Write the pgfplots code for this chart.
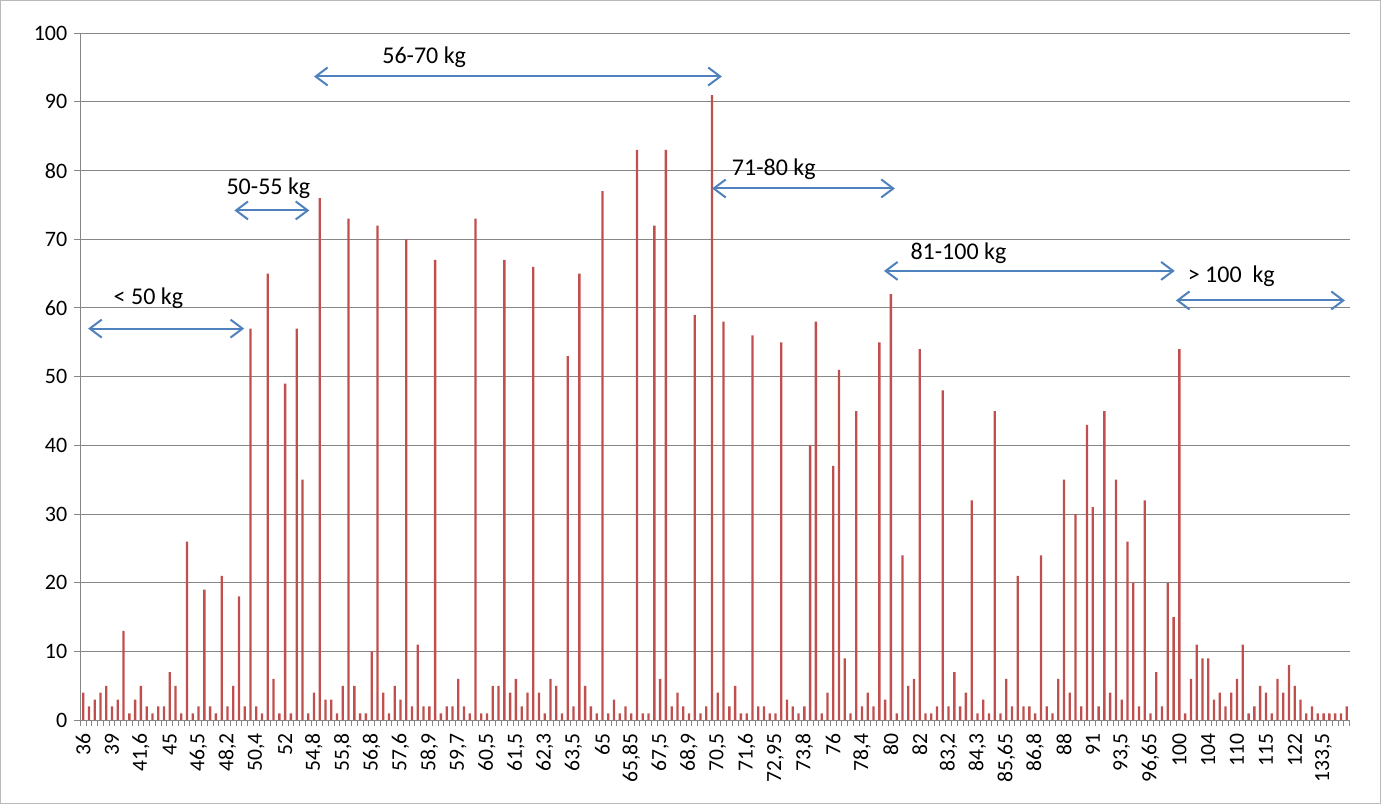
\documentclass[border=0pt]{standalone}
\usepackage{fontspec}
\setmainfont{Carlito}
\usepackage{pgfplots}
\usepackage{pgfplotstable}
\pgfplotsset{compat=1.18}
\usetikzlibrary{arrows.meta}

\definecolor{barred}{RGB}{192,80,77}
\definecolor{arrowblue}{RGB}{79,129,189}
\definecolor{gridgray}{RGB}{134,134,134}

% category index, count (one row per weight value)
\pgfplotstableread{
cat val
1 4
2 2
3 3
4 4
5 5
6 2
7 3
8 13
9 1
10 3
11 5
12 2
13 1
14 2
15 2
16 7
17 5
18 1
19 26
20 1
21 2
22 19
23 2
24 1
25 21
26 2
27 5
28 18
29 2
30 57
31 2
32 1
33 65
34 6
35 1
36 49
37 1
38 57
39 35
40 1
41 4
42 76
43 3
44 3
45 1
46 5
47 73
48 5
49 1
50 1
51 10
52 72
53 4
54 1
55 5
56 3
57 70
58 2
59 11
60 2
61 2
62 67
63 1
64 2
65 2
66 6
67 2
68 1
69 73
70 1
71 1
72 5
73 5
74 67
75 4
76 6
77 2
78 4
79 66
80 4
81 1
82 6
83 5
84 1
85 53
86 2
87 65
88 5
89 2
90 1
91 77
92 1
93 3
94 1
95 2
96 1
97 83
98 1
99 1
100 72
101 6
102 83
103 2
104 4
105 2
106 1
107 59
108 1
109 2
110 91
111 4
112 58
113 2
114 5
115 1
116 1
117 56
118 2
119 2
120 1
121 1
122 55
123 3
124 2
125 1
126 2
127 40
128 58
129 1
130 4
131 37
132 51
133 9
134 1
135 45
136 2
137 4
138 2
139 55
140 3
141 62
142 1
143 24
144 5
145 6
146 54
147 1
148 1
149 2
150 48
151 2
152 7
153 2
154 4
155 32
156 1
157 3
158 1
159 45
160 1
161 6
162 2
163 21
164 2
165 2
166 1
167 24
168 2
169 1
170 6
171 35
172 4
173 30
174 2
175 43
176 31
177 2
178 45
179 4
180 35
181 3
182 26
183 20
184 2
185 32
186 1
187 7
188 2
189 20
190 15
191 54
192 1
193 6
194 11
195 9
196 9
197 3
198 4
199 2
200 4
201 6
202 11
203 1
204 2
205 5
206 4
207 1
208 6
209 4
210 8
211 5
212 3
213 1
214 2
215 1
216 1
217 1
218 1
219 1
220 2
}\weights

\begin{document}
\begin{tikzpicture}
\begin{axis}[
  scale only axis,
  width=634.7pt, height=343.5pt,
  xmin=0.5, xmax=220.5,
  ymin=0, ymax=100,
  ybar, bar width=0.4,
  axis x line*=bottom, axis y line*=left,
  axis line style={gridgray},
  ytick={0,10,...,100},
  ymajorgrids,
  grid style={gridgray, line width=0.5pt},
  xtick={1,6,...,216},
  xticklabels={36,39,{41,6},45,{46,5},{48,2},{50,4},52,{54,8},{55,8},{56,8},{57,6},{58,9},{59,7},{60,5},{61,5},{62,3},{63,5},65,{65,85},{67,5},{68,9},{70,5},{71,6},{72,95},{73,8},76,{78,4},80,82,{83,2},{84,3},{85,65},{86,8},88,91,{93,5},{96,65},100,104,110,115,122,{133,5}},
  minor xtick={0.5,1.5,...,220.5},
  tick align=outside,
  major tick length=3pt, minor tick length=3pt,
  tick style={gridgray, line width=0.5pt},
  major x tick style={draw=none},
  x tick label style={rotate=90, anchor=east, font=\fontsize{10.8}{11}\selectfont},
  y tick label style={font=\fontsize{11}{12}\selectfont},
  /pgf/number format/assume math mode=true,
  clip=false,
]
\addplot[fill=barred, draw=none] table[x=cat, y=val] {\weights};

\draw[gray!55, line width=0.6pt] (rel axis cs:-0.0628,-0.1215) rectangle (rel axis cs:1.0243,1.0475);

\tikzset{rng/.style={arrowblue, line width=1pt,
  {Straight Barb[length=6pt,width=9pt]}-{Straight Barb[length=6pt,width=9pt]}}}
\draw[rng] (axis cs:1.85,57) -- (axis cs:28.9,57);
\draw[rng] (axis cs:27.2,74.2) -- (axis cs:40.2,74.2);
\draw[rng] (axis cs:41.0,93.7) -- (axis cs:111.7,93.7);
\draw[rng] (axis cs:110,77.4) -- (axis cs:141.7,77.4);
\draw[rng] (axis cs:139.8,65.4) -- (axis cs:190.2,65.4);
\draw[rng] (axis cs:190.4,61.1) -- (axis cs:219.7,61.1);

\tikzset{lbl/.style={font=\fontsize{12}{14}\selectfont, inner sep=0pt}}
\node[lbl] at (axis cs:12.3,61.4) {< 50 kg};
\node[lbl] at (axis cs:33.1,77.4) {50-55 kg};
\node[lbl] at (axis cs:60.1,96.5) {56-70 kg};
\node[lbl] at (axis cs:120.7,80.2) {71-80 kg};
\node[lbl] at (axis cs:152.7,68) {81-100 kg};
\node[lbl] at (axis cs:200,64.6) {> 100\ \ kg};
\end{axis}
\end{tikzpicture}
\end{document}
